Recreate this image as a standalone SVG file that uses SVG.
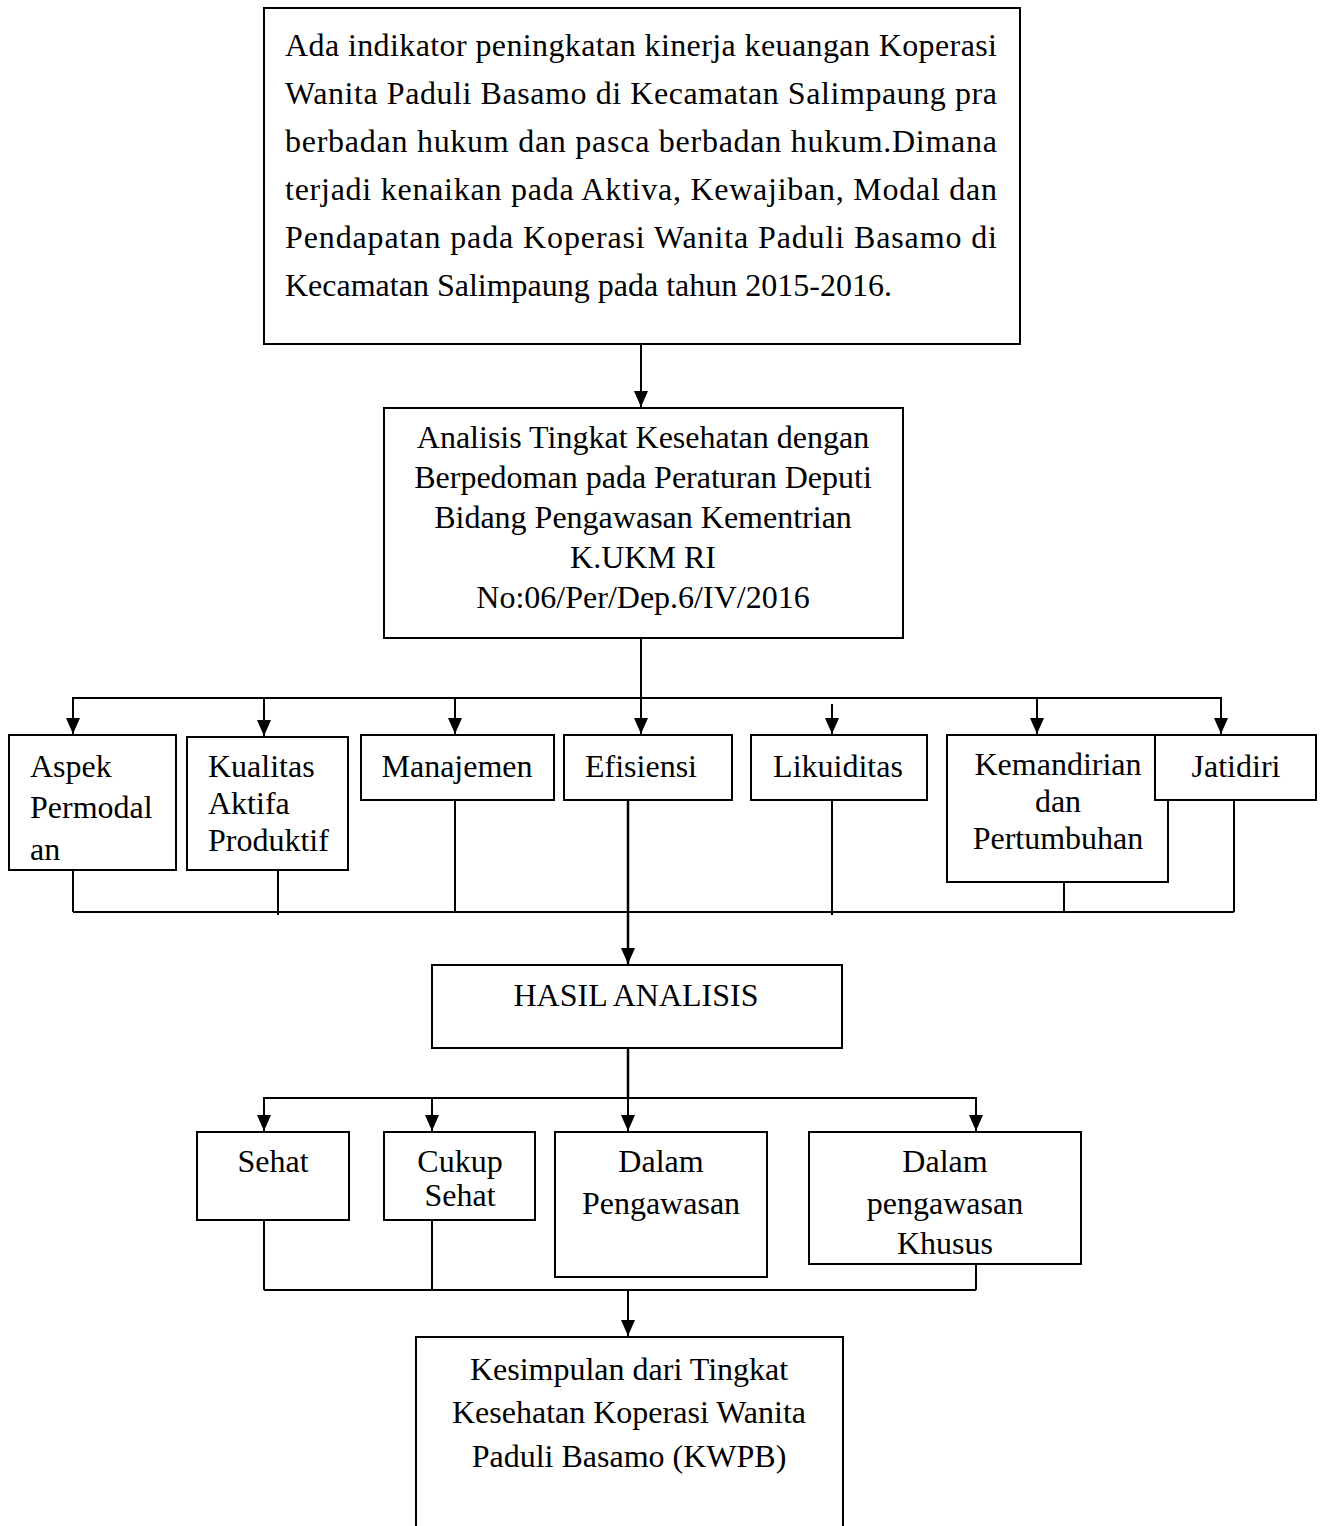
<svg xmlns="http://www.w3.org/2000/svg" width="1325" height="1526" viewBox="0 0 1325 1526">
<defs>
<style>
.box{fill:#fff;stroke:#000;stroke-width:2}
.t{font-family:"Liberation Serif","Times New Roman",serif;font-size:32px;fill:#000}
.c{text-anchor:middle}
.ln{fill:none;stroke:#000;stroke-width:2}
.ar{fill:none;stroke:#000;stroke-width:2;marker-end:url(#ah)}
</style>
<marker id="ah" markerUnits="userSpaceOnUse" markerWidth="16" markerHeight="14" viewBox="0 0 16 14" refX="16" refY="7" orient="auto">
<path d="M0,0 L16,7 L0,14 Z" fill="#000"/>
</marker>
</defs>
<rect width="1325" height="1526" fill="#fff"/>
<g id="connectors">
<line class="ar" x1="641" y1="344" x2="641" y2="407"/>
<line class="ln" x1="641" y1="638" x2="641" y2="698"/>
<line class="ln" x1="73" y1="698" x2="1221" y2="698"/>
<line class="ar" x1="73" y1="697" x2="73" y2="734"/>
<line class="ar" x1="264" y1="697" x2="264" y2="736"/>
<line class="ar" x1="455" y1="697" x2="455" y2="734"/>
<line class="ar" x1="641" y1="697" x2="641" y2="734"/>
<line class="ar" x1="832" y1="704" x2="832" y2="734"/>
<line class="ar" x1="1037" y1="697" x2="1037" y2="734"/>
<line class="ar" x1="1221" y1="697" x2="1221" y2="734"/>
<line class="ln" x1="73" y1="870" x2="73" y2="912"/>
<line class="ln" x1="278" y1="870" x2="278" y2="915"/>
<line class="ln" x1="455" y1="800" x2="455" y2="912"/>
<line class="ln" x1="832" y1="800" x2="832" y2="915"/>
<line class="ln" x1="1064" y1="882" x2="1064" y2="912"/>
<line class="ln" x1="1234" y1="800" x2="1234" y2="912"/>
<line class="ln" x1="73" y1="912" x2="1234" y2="912"/>
<line class="ar" x1="628" y1="800" x2="628" y2="964" style="stroke-width:2.5"/>
<line class="ln" x1="628" y1="1048" x2="628" y2="1098" style="stroke-width:2.5"/>
<line class="ln" x1="264" y1="1098" x2="976" y2="1098"/>
<line class="ar" x1="264" y1="1097" x2="264" y2="1131"/>
<line class="ar" x1="432" y1="1097" x2="432" y2="1131"/>
<line class="ar" x1="628" y1="1097" x2="628" y2="1131"/>
<line class="ar" x1="976" y1="1097" x2="976" y2="1131"/>
<line class="ln" x1="264" y1="1220" x2="264" y2="1290"/>
<line class="ln" x1="432" y1="1220" x2="432" y2="1290"/>
<line class="ln" x1="976" y1="1264" x2="976" y2="1290"/>
<line class="ln" x1="264" y1="1290" x2="976" y2="1290"/>
<line class="ar" x1="628" y1="1290" x2="628" y2="1336"/>
</g>
<g id="n-top">
<rect class="box" x="264" y="8" width="756" height="336"/>
<text class="t" x="285" y="56" textLength="712" lengthAdjust="spacing">Ada indikator peningkatan kinerja keuangan Koperasi</text>
<text class="t" x="285" y="104" textLength="712" lengthAdjust="spacing">Wanita Paduli Basamo di Kecamatan Salimpaung pra</text>
<text class="t" x="285" y="152" textLength="712" lengthAdjust="spacing">berbadan hukum dan pasca berbadan hukum.Dimana</text>
<text class="t" x="285" y="200" textLength="712" lengthAdjust="spacing">terjadi kenaikan pada Aktiva, Kewajiban, Modal dan</text>
<text class="t" x="285" y="248" textLength="712" lengthAdjust="spacing">Pendapatan pada Koperasi Wanita Paduli Basamo di</text>
<text class="t" x="285" y="296">Kecamatan Salimpaung pada tahun 2015-2016.</text>
</g>
<g id="n-analisis">
<rect class="box" x="384" y="408" width="519" height="230"/>
<text class="t c" x="643" y="448">Analisis Tingkat Kesehatan dengan</text>
<text class="t c" x="643" y="488">Berpedoman pada Peraturan Deputi</text>
<text class="t c" x="643" y="528">Bidang Pengawasan Kementrian</text>
<text class="t c" x="643" y="568">K.UKM RI</text>
<text class="t c" x="643" y="608">No:06/Per/Dep.6/IV/2016</text>
</g>
<g id="n-aspek">
<rect class="box" x="9" y="735" width="167" height="135"/>
<text class="t" x="30" y="777">Aspek</text>
<text class="t" x="30" y="818">Permodal</text>
<text class="t" x="30" y="860">an</text>
</g>
<g id="n-kualitas">
<rect class="box" x="187" y="737" width="161" height="133"/>
<text class="t" x="208" y="777">Kualitas</text>
<text class="t" x="208" y="814">Aktifa</text>
<text class="t" x="208" y="851">Produktif</text>
</g>
<g id="n-manajemen">
<rect class="box" x="361" y="735" width="193" height="65"/>
<text class="t c" x="457" y="777">Manajemen</text>
</g>
<g id="n-efisiensi">
<rect class="box" x="564" y="735" width="168" height="65"/>
<text class="t c" x="641" y="777">Efisiensi</text>
</g>
<g id="n-likuiditas">
<rect class="box" x="751" y="735" width="176" height="65"/>
<text class="t c" x="838" y="777">Likuiditas</text>
</g>
<g id="n-kemandirian">
<rect class="box" x="947" y="735" width="221" height="147"/>
<text class="t c" x="1058" y="775">Kemandirian</text>
<text class="t c" x="1058" y="812">dan</text>
<text class="t c" x="1058" y="849">Pertumbuhan</text>
</g>
<g id="n-jatidiri">
<rect class="box" x="1155" y="735" width="161" height="65"/>
<text class="t c" x="1236" y="777">Jatidiri</text>
</g>
<g id="n-hasil">
<rect class="box" x="432" y="965" width="410" height="83"/>
<text class="t c" x="636" y="1006">HASIL ANALISIS</text>
</g>
<g id="n-sehat">
<rect class="box" x="197" y="1132" width="152" height="88"/>
<text class="t c" x="273" y="1172">Sehat</text>
</g>
<g id="n-cukup">
<rect class="box" x="384" y="1132" width="151" height="88"/>
<text class="t c" x="460" y="1172">Cukup</text>
<text class="t c" x="460" y="1206">Sehat</text>
</g>
<g id="n-dalam">
<rect class="box" x="555" y="1132" width="212" height="145"/>
<text class="t c" x="661" y="1172">Dalam</text>
<text class="t c" x="661" y="1214">Pengawasan</text>
</g>
<g id="n-khusus">
<rect class="box" x="809" y="1132" width="272" height="132"/>
<text class="t c" x="945" y="1172">Dalam</text>
<text class="t c" x="945" y="1214">pengawasan</text>
<text class="t c" x="945" y="1254">Khusus</text>
</g>
<g id="n-kesimpulan">
<rect class="box" x="416" y="1337" width="427" height="200"/>
<text class="t c" x="629" y="1380">Kesimpulan dari Tingkat</text>
<text class="t c" x="629" y="1423">Kesehatan Koperasi Wanita</text>
<text class="t c" x="629" y="1467">Paduli Basamo (KWPB)</text>
</g>
</svg>
